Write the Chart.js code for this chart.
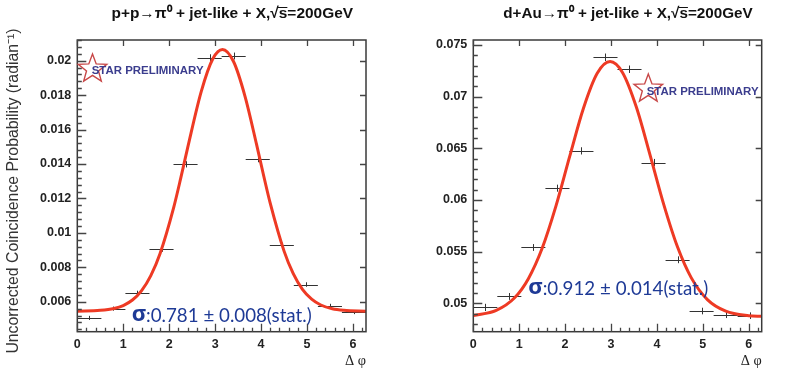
<!DOCTYPE html>
<html>
<head>
<meta charset="utf-8">
<script src="https://cdn.jsdelivr.net/npm/chart.js@4/dist/chart.umd.min.js"></script>
<style>
html, body { margin: 0; padding: 0; background: #fff; }
#wrap { position: relative; width: 790px; height: 377px; overflow: hidden; }
canvas { position: absolute; top: 0; }
</style>
</head>
<body>
<div id="wrap">
  <canvas id="ppChart" width="395" height="377" style="left:0"></canvas>
  <canvas id="dauChart" width="395" height="377" style="left:395px"></canvas>
</div>
<script>
// --- binning (12 bins over 0..2pi) ---
const binCenters = [0.262, 0.785, 1.309, 1.833, 2.356, 2.880, 3.403, 3.927, 4.451, 4.974, 5.498, 6.021];
const binHalfWidth = 0.262;
const xTicks = [0, 1, 2, 3, 4, 5, 6];

// --- p+p panel ---
const ppValues = [0.00506, 0.00560, 0.00651, 0.00905, 0.01398, 0.02017, 0.02027, 0.01428, 0.00928, 0.00700, 0.00576, 0.00540];
const ppErrors = [0.00012, 0.00012, 0.00013, 0.00015, 0.00018, 0.00020, 0.00020, 0.00018, 0.00015, 0.00013, 0.00012, 0.00012];
const ppFitX = [0, 0.5, 0.8, 1.0, 1.2, 1.4, 1.6, 1.8, 2.1, 2.25, 2.4, 2.7, 2.95, 3.16, 3.4, 3.65, 3.9, 4.05, 4.2, 4.5, 4.7, 4.9, 5.1, 5.3, 5.55, 5.8, 6.283];
const ppFitY = [0.00545, 0.00550, 0.00561, 0.00578, 0.00610, 0.00665, 0.00752, 0.00879, 0.01150, 0.01316, 0.01492, 0.01823, 0.02011, 0.02065, 0.01995, 0.01793, 0.01515, 0.01339, 0.01171, 0.00894, 0.00763, 0.00672, 0.00615, 0.00581, 0.00559, 0.00550, 0.00545];
const ppYTicks = [0.006, 0.008, 0.01, 0.012, 0.014, 0.016, 0.018, 0.02];
const ppSigma = "0.781 \u00b1 0.008(stat.)";

// --- d+Au panel ---
const dauValues = [0.04960, 0.05066, 0.05540, 0.06114, 0.06475, 0.07381, 0.07265, 0.06362, 0.05421, 0.04925, 0.04889, 0.04880];
const dauErrors = [0.00035, 0.00033, 0.00033, 0.00034, 0.00035, 0.00036, 0.00036, 0.00035, 0.00033, 0.00032, 0.00032, 0.00032];
const dauFitX = [0, 0.5, 0.9, 1.2, 1.5, 1.8, 2.1, 2.4, 2.7, 2.98, 3.25, 3.55, 3.85, 4.15, 4.45, 4.75, 5.1, 5.5, 6.0, 6.283];
const dauFitY = [0.04882, 0.04931, 0.05053, 0.05238, 0.05532, 0.05940, 0.06421, 0.06888, 0.07226, 0.07340, 0.07234, 0.06902, 0.06437, 0.05955, 0.05544, 0.05246, 0.05036, 0.04924, 0.04880, 0.04874];
const dauYTicks = [0.05, 0.055, 0.06, 0.065, 0.07, 0.075];
const dauSigma = "0.912 \u00b1 0.014(stat.)";

// scale text so it spans a given width
function fitFont(ctx, text, weight, family, width) {
  ctx.font = weight + " 20px " + family;
  const size = 20 * width / ctx.measureText(text).width;
  ctx.font = weight + " " + size + "px " + family;
  return size;
}

function drawStar(ctx, cx, cy, r) {
  ctx.beginPath();
  for (let i = 0; i < 10; i++) {
    const rr = i % 2 ? r * 0.42 : r;
    const a = -Math.PI / 2 + i * Math.PI / 5;
    const px = cx + rr * Math.cos(a), py = cy + rr * Math.sin(a);
    if (i) ctx.lineTo(px, py); else ctx.moveTo(px, py);
  }
  ctx.closePath();
  ctx.stroke();
}

function ticksAlong(min, max, step) {
  const out = [];
  for (let n = Math.ceil(min / step - 1e-6); n * step <= max + 1e-9; n++) out.push(n * step);
  return out;
}

// ROOT-like frame, inward ticks, error bars and text
const rootFrame = {
  id: 'rootFrame',
  beforeDatasetsDraw(chart, args, o) {
    const { ctx, scales: { x, y } } = chart;
    ctx.save();
    ctx.strokeStyle = '#333';
    ctx.lineWidth = 1;
    o.values.forEach((v, i) => {
      const cx = binCenters[i];
      const py = Math.round(y.getPixelForValue(v)) + 0.5;
      const px = Math.round(x.getPixelForValue(cx)) + 0.5;
      ctx.beginPath();
      ctx.moveTo(x.getPixelForValue(cx - binHalfWidth), py);
      ctx.lineTo(x.getPixelForValue(cx + binHalfWidth), py);
      ctx.moveTo(px, y.getPixelForValue(v - o.errors[i]));
      ctx.lineTo(px, y.getPixelForValue(v + o.errors[i]));
      ctx.stroke();
    });
    ctx.restore();
  },
  afterDraw(chart, args, o) {
    const { ctx, chartArea: a, scales: { x, y } } = chart;
    ctx.save();
    // frame
    ctx.strokeStyle = '#3a3a3a';
    ctx.lineWidth = 1.5;
    ctx.strokeRect(a.left, a.top, a.right - a.left, a.bottom - a.top);
    ctx.strokeStyle = '#444';
    ctx.lineWidth = 1.3;
    ctx.beginPath();
    ticksAlong(y.min, y.max, o.yMinor).forEach(v => {
      const p = Math.round(y.getPixelForValue(v)) + 0.5;
      const major = Math.abs(v / o.yMajor - Math.round(v / o.yMajor)) < 1e-6;
      ctx.moveTo(a.left, p); ctx.lineTo(a.left + (major ? 9 : 4.5), p);
      if (major) { ctx.moveTo(a.right, p); ctx.lineTo(a.right - 6, p); }
    });
    ticksAlong(x.min, x.max, 0.2).forEach(v => {
      const p = Math.round(x.getPixelForValue(v)) + 0.5;
      const major = Math.abs(v - Math.round(v)) < 1e-6;
      ctx.moveTo(p, a.bottom); ctx.lineTo(p, a.bottom - (major ? 8 : 4));
      if (major) { ctx.moveTo(p, a.top); ctx.lineTo(p, a.top + 6); }
    });
    ctx.stroke();

    // title
    ctx.fillStyle = '#111';
    ctx.strokeStyle = '#111';
    ctx.textBaseline = 'middle';
    ctx.textAlign = 'left';
    const title = o.title;
    fitFont(ctx, title, 'bold', '"Liberation Sans", Arial', o.titleWidth);
    const tx = o.titleCenter - o.titleWidth / 2;
    ctx.fillText(title, tx, 14);
    const root = title.indexOf('\u221a');
    const sx0 = tx + ctx.measureText(title.slice(0, root + 1)).width;
    const sx1 = tx + ctx.measureText(title.slice(0, root + 2)).width;
    ctx.beginPath();
    ctx.lineWidth = 1;
    ctx.moveTo(sx0 - 1, 7.5); ctx.lineTo(sx1, 7.5);
    ctx.stroke();

    // STAR PRELIMINARY
    ctx.strokeStyle = '#c84848';
    ctx.lineWidth = 1.4;
    drawStar(ctx, o.star[0], o.star[1], 15);
    ctx.fillStyle = '#3b3d8e';
    fitFont(ctx, 'STAR PRELIMINARY', 'bold', '"Liberation Sans", Arial', 112);
    ctx.fillText('STAR PRELIMINARY', o.starText[0], o.starText[1]);

    // sigma text
    ctx.fillStyle = '#1e3a96';
    ctx.font = 'bold 22px "Open Sans", Lato, sans-serif';
    const sw = ctx.measureText('\u03c3').width;
    ctx.fillText('\u03c3', o.sigmaPos[0], o.sigmaPos[1] - 1);
    fitFont(ctx, ':' + o.sigma, 'normal', 'Lato, "Open Sans", sans-serif', 180 - sw);
    ctx.fillText(':' + o.sigma, o.sigmaPos[0] + sw, o.sigmaPos[1]);

    // x axis label
    ctx.fillStyle = '#222';
    ctx.textAlign = 'right';
    fitFont(ctx, '\u0394 \u03c6', 'normal', '"Liberation Serif", serif', 21);
    ctx.fillText('\u0394 \u03c6', a.right, 361);

    // y axis title
    if (o.yTitle) {
      ctx.translate(14, 191);
      ctx.rotate(-Math.PI / 2);
      ctx.textAlign = 'center';
      ctx.fillStyle = '#333';
      fitFont(ctx, o.yTitle, 'normal', '"Liberation Sans", Arial', 326);
      ctx.fillText(o.yTitle, 0, 0);
    }
    ctx.restore();
  }
};

function makeChart(id, values, errors, fitX, fitY, yTicks, yMin, yMax, yMajor, yMinor, extra) {
  return new Chart(document.getElementById(id), {
    type: 'scatter',
    data: {
      datasets: [{
        data: fitX.map((v, i) => ({ x: v, y: fitY[i] })),
        showLine: true,
        borderColor: '#ee3a24',
        borderWidth: 3,
        pointRadius: 0,
        cubicInterpolationMode: 'monotone'
      }]
    },
    options: {
      responsive: false,
      animation: false,
      devicePixelRatio: 1,
      layout: { padding: { top: 40, right: extra.padRight, left: 0, bottom: 0 } },
      plugins: {
        legend: { display: false },
        tooltip: { enabled: false },
        rootFrame: Object.assign({ values: values, errors: errors, yMajor: yMajor, yMinor: yMinor }, extra)
      },
      scales: {
        x: {
          type: 'linear', min: 0, max: 6.2832,
          grid: { display: false, drawTicks: false },
          border: { display: false },
          afterBuildTicks: s => { s.ticks = xTicks.map(v => ({ value: v })); },
          afterFit: s => { s.height = 377 - 331.7; },
          ticks: { padding: 5, color: '#222', font: { family: '"Liberation Sans", Arial', weight: 'bold', size: 12.5 }, callback: v => String(v) }
        },
        y: {
          type: 'linear', min: yMin, max: yMax,
          grid: { display: false, drawTicks: false },
          border: { display: false },
          afterBuildTicks: s => { s.ticks = yTicks.map(v => ({ value: v })); },
          afterFit: s => { s.width = extra.plotLeft; },
          ticks: { padding: 6, color: '#222', font: { family: '"Liberation Sans", Arial', weight: 'bold', size: 12.5 }, callback: v => String(v) }
        }
      }
    },
    plugins: [rootFrame]
  });
}

makeChart('ppChart', ppValues, ppErrors, ppFitX, ppFitY, ppYTicks, 0.00426, 0.0212, 0.002, 0.0004, {
  plotLeft: 77.3, padRight: 29,
  title: 'p+p\u2192\u03c0\u2070 + jet-like + X,\u221as=200GeV', titleCenter: 232.5, titleWidth: 242,
  star: [92.5, 69], starText: [91.7, 71],
  sigma: ppSigma, sigmaPos: [131.7, 316],
  yTitle: 'Uncorrected Coincidence Probability (radian\u207b\u00b9)'
});

makeChart('dauChart', dauValues, dauErrors, dauFitX, dauFitY, dauYTicks, 0.04725, 0.07548, 0.005, 0.001, {
  plotLeft: 78.3, padRight: 28.3,
  title: 'd+Au\u2192\u03c0\u2070 + jet-like + X,\u221as=200GeV', titleCenter: 233.3, titleWidth: 250,
  star: [253.3, 89], starText: [251.7, 91.5],
  sigma: dauSigma, sigmaPos: [133.3, 288.5]
});
</script>
</body>
</html>
